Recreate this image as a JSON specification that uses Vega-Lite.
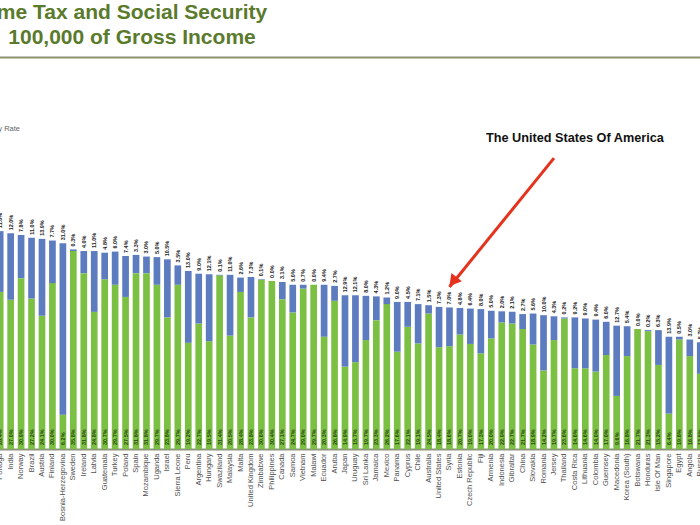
{
  "$schema": "https://vega.github.io/schema/vega-lite/v6.json",
  "width": 700,
  "height": 392,
  "autosize": {"type": "none"},
  "padding": {"left": 0, "top": 57, "right": 0, "bottom": 76},
  "background": "white",
  "config": {"view": {"stroke": null}, "font": "Liberation Sans"},
  "title": {
    "text": ["me Tax and Social Security", "100,000 of Gross Income"],
    "anchor": "start",
    "align": "center",
    "dx": 132,
    "frame": "group",
    "fontSize": 21,
    "fontWeight": "bold",
    "color": "#5a7a2c",
    "font": "Liberation Sans",
    "lineHeight": 25,
    "offset": 9
  },
  "layer": [
    {
      "data": {
        "values": [
          {"country": "Portuga", "tax": 0.284, "ss": 0.110},
          {"country": "India", "tax": 0.270, "ss": 0.120},
          {"country": "Norway", "tax": 0.309, "ss": 0.078},
          {"country": "Brazil", "tax": 0.272, "ss": 0.110},
          {"country": "Austria", "tax": 0.241, "ss": 0.139},
          {"country": "Finland", "tax": 0.300, "ss": 0.077},
          {"country": "Bosnia-Herzegovina", "tax": 0.062, "ss": 0.310},
          {"country": "Sweden", "tax": 0.358, "ss": 0.003},
          {"country": "Ireland", "tax": 0.318, "ss": 0.040},
          {"country": "Latvia", "tax": 0.248, "ss": 0.110},
          {"country": "Guatemala", "tax": 0.307, "ss": 0.048},
          {"country": "Turkey", "tax": 0.297, "ss": 0.060},
          {"country": "Poland", "tax": 0.275, "ss": 0.074},
          {"country": "Spain", "tax": 0.318, "ss": 0.033},
          {"country": "Mozambique", "tax": 0.318, "ss": 0.030},
          {"country": "Uganda", "tax": 0.297, "ss": 0.050},
          {"country": "Israel", "tax": 0.238, "ss": 0.105},
          {"country": "Sierra Leone", "tax": 0.297, "ss": 0.035},
          {"country": "Peru", "tax": 0.192, "ss": 0.130},
          {"country": "Argentina", "tax": 0.227, "ss": 0.090},
          {"country": "Hungary", "tax": 0.195, "ss": 0.121},
          {"country": "Swaziland", "tax": 0.314, "ss": 0.001},
          {"country": "Malaysia", "tax": 0.205, "ss": 0.110},
          {"country": "Malta", "tax": 0.284, "ss": 0.026},
          {"country": "United Kingdom", "tax": 0.238, "ss": 0.073},
          {"country": "Zimbabwe", "tax": 0.306, "ss": 0.001},
          {"country": "Philippines", "tax": 0.304, "ss": 0.000},
          {"country": "Canada", "tax": 0.271, "ss": 0.031},
          {"country": "Samoa", "tax": 0.247, "ss": 0.050},
          {"country": "Vietnam", "tax": 0.290, "ss": 0.007},
          {"country": "Malawi", "tax": 0.297, "ss": 0.000},
          {"country": "Ecuador", "tax": 0.203, "ss": 0.094},
          {"country": "Aruba", "tax": 0.268, "ss": 0.027},
          {"country": "Japan", "tax": 0.149, "ss": 0.129},
          {"country": "Uruguay", "tax": 0.157, "ss": 0.121},
          {"country": "Sri Lanka", "tax": 0.197, "ss": 0.080},
          {"country": "Jamaica", "tax": 0.233, "ss": 0.043},
          {"country": "Mexico", "tax": 0.262, "ss": 0.012},
          {"country": "Panama", "tax": 0.176, "ss": 0.090},
          {"country": "Cyprus", "tax": 0.221, "ss": 0.045},
          {"country": "Chile", "tax": 0.191, "ss": 0.071},
          {"country": "Australia", "tax": 0.245, "ss": 0.015},
          {"country": "United States", "tax": 0.184, "ss": 0.073},
          {"country": "Syria", "tax": 0.186, "ss": 0.070},
          {"country": "Estonia", "tax": 0.207, "ss": 0.048},
          {"country": "Czech Republic", "tax": 0.190, "ss": 0.064},
          {"country": "Fiji", "tax": 0.173, "ss": 0.080},
          {"country": "Armenia", "tax": 0.200, "ss": 0.050},
          {"country": "Indonesia", "tax": 0.229, "ss": 0.020},
          {"country": "Gibraltar", "tax": 0.227, "ss": 0.021},
          {"country": "China", "tax": 0.217, "ss": 0.027},
          {"country": "Slovakia", "tax": 0.189, "ss": 0.056},
          {"country": "Romania", "tax": 0.142, "ss": 0.100},
          {"country": "Jersey", "tax": 0.197, "ss": 0.043},
          {"country": "Thailand", "tax": 0.236, "ss": 0.002},
          {"country": "Costa Rica", "tax": 0.146, "ss": 0.092},
          {"country": "Lithuania", "tax": 0.146, "ss": 0.090},
          {"country": "Colombia", "tax": 0.140, "ss": 0.094},
          {"country": "Guernsey", "tax": 0.170, "ss": 0.060},
          {"country": "Macedonia", "tax": 0.096, "ss": 0.127},
          {"country": "Korea (South)", "tax": 0.168, "ss": 0.054},
          {"country": "Botswana", "tax": 0.217, "ss": 0.000},
          {"country": "Honduras", "tax": 0.213, "ss": 0.002},
          {"country": "Isle Of Man", "tax": 0.152, "ss": 0.063},
          {"country": "Singapore", "tax": 0.064, "ss": 0.139},
          {"country": "Egypt", "tax": 0.198, "ss": 0.005},
          {"country": "Angola", "tax": 0.168, "ss": 0.030},
          {"country": "Russia", "tax": 0.136, "ss": 0.057}
        ]
      },
      "transform": [
        {"fold": ["tax", "ss"], "as": ["component", "value"]},
        {"stack": "value", "groupby": ["country"], "sort": [{"field": "component", "order": "descending"}], "as": ["v0", "v1"]}
      ],
      "layer": [
        {
          "mark": {"type": "bar"},
          "encoding": {
            "x": {
              "field": "country", "type": "nominal", "sort": null,
              "scale": {"range": [-3.15, 703.6], "paddingInner": 0.36, "paddingOuter": 0},
              "axis": {
                "title": null, "orient": "bottom", "labelAngle": -90, "labelFontSize": 7.5,
                "labelColor": "#505050", "labelPadding": 4, "ticks": false,
                "domainColor": "#8c9678", "domainWidth": 2, "labelOverlap": false,
                "labelFont": "Liberation Sans"
              }
            },
            "y": {"field": "v1", "type": "quantitative", "scale": {"domain": [0, 0.7089], "nice": false}, "axis": null},
            "y2": {"field": "v0"},
            "color": {
              "field": "component", "type": "nominal",
              "scale": {"domain": ["tax", "ss"], "range": ["#7cc043", "#5c7cbf"]},
              "legend": {
                "values": ["ss"], "orient": "none", "legendX": -59.5, "legendY": 68,
                "title": null, "labelExpr": "datum.label == 'ss' ? 'Social Security Rate' : 'Income Tax Rate'",
                "labelFontSize": 7.5, "labelColor": "#666666", "symbolType": "square", "symbolSize": 36,
                "labelOffset": 4, "padding": 0, "labelFont": "Liberation Sans"
              }
            }
          }
        },
        {
          "transform": [{"filter": "datum.component == 'ss'"}],
          "mark": {"type": "text", "angle": 270, "align": "left", "baseline": "middle", "dx": 3, "fontSize": 5.5, "fontWeight": "bold", "color": "#222222"},
          "encoding": {
            "x": {"field": "country", "type": "nominal", "sort": null},
            "y": {"field": "v1", "type": "quantitative"},
            "text": {"field": "value", "type": "quantitative", "format": ".1%"}
          }
        },
        {
          "transform": [{"filter": "datum.component == 'tax'"}],
          "mark": {"type": "text", "angle": 270, "align": "left", "baseline": "middle", "dx": 4, "fontSize": 5.5, "fontWeight": "bold", "color": "#2b4a12"},
          "encoding": {
            "x": {"field": "country", "type": "nominal", "sort": null},
            "y": {"field": "v0", "type": "quantitative"},
            "text": {"field": "value", "type": "quantitative", "format": ".1%"}
          }
        }
      ]
    },
    {
      "data": {"values": [{"country": "Costa Rica", "y": 0.5624, "note": "The United States Of America"}]},
      "mark": {"type": "text", "align": "center", "baseline": "middle", "fontSize": 12.7, "fontWeight": "bold", "color": "#111111"},
      "encoding": {
        "x": {"field": "country", "type": "nominal", "sort": null,
              "axis": {"orient": "top", "labels": false, "ticks": false, "title": null, "domainColor": "#8c9170", "domainWidth": 2}},
        "y": {"field": "y", "type": "quantitative"},
        "text": {"field": "note"}
      }
    },
    {
      "data": {"values": [{"country": "Jersey", "y": 0.526}, {"country": "Syria", "y": 0.293}]},
      "mark": {"type": "line", "color": "#e5321d", "strokeWidth": 3, "strokeCap": "butt"},
      "encoding": {
        "x": {"field": "country", "type": "nominal", "sort": null, "axis": null},
        "y": {"field": "y", "type": "quantitative"}
      }
    },
    {
      "data": {"values": [{"country": "Syria", "y": 0.3027}]},
      "mark": {"type": "point", "shape": "triangle-up", "filled": true, "opacity": 1, "color": "#e5321d", "size": 180, "angle": 219, "xOffset": 3.5},
      "encoding": {
        "x": {"field": "country", "type": "nominal", "sort": null, "axis": null},
        "y": {"field": "y", "type": "quantitative"}
      }
    }
  ],
  "resolve": {"axis": {"x": "independent"}}
}
